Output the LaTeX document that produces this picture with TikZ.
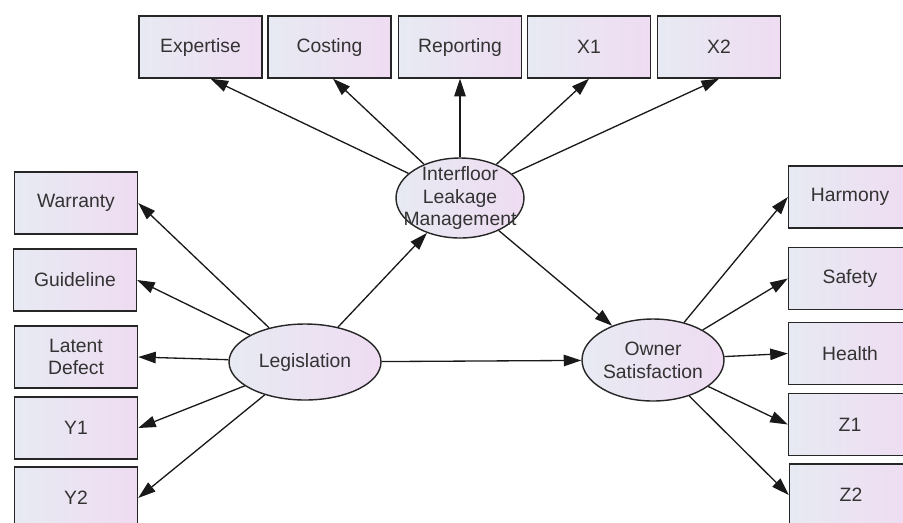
\documentclass[tikz,border=0pt]{standalone}
\usepackage{fontspec}
\setmainfont{Liberation Sans}
\usetikzlibrary{arrows.meta,shapes.geometric}

\definecolor{fillleft}{HTML}{E7EAF2}
\definecolor{fillright}{HTML}{EFDCF2}
\definecolor{inkgrey}{HTML}{333333}

\tikzset{
  indicator/.style={draw=black!85, line width=0.8pt, rectangle,
    minimum width=2.46cm, minimum height=1.24cm, inner sep=0pt,
    left color=fillleft, right color=fillright, text=inkgrey,
    align=center, font=\fontsize{11}{13}\selectfont},
  latent/.style={draw=black!85, line width=0.8pt, ellipse, inner sep=0pt,
    left color=fillleft, right color=fillright},
  latentlabel/.style={inner sep=0pt, text=inkgrey, align=center,
    font=\fontsize{11}{13}\selectfont},
  loading/.style={-{Triangle[length=10pt,width=6.5pt]}, line width=0.75pt, black!90}
}

\begin{document}
\begin{tikzpicture}[x=0.02cm, y=-0.02cm]
  \useasboundingbox (0,0) rectangle (903,522);

  % latent variables
  \node[latent, minimum width=2.56cm, minimum height=1.6cm] (interfloor) at (460,198) {};
  \node[latentlabel] (interfloortext) at (interfloor) {Interfloor\\Leakage\\Management};
  \node[latent, minimum width=3.04cm, minimum height=1.52cm] (legislation) at (305,362) {};
  \node[latentlabel] (legislationtext) at (legislation) {Legislation};
  \node[latent, minimum width=2.84cm, minimum height=1.64cm] (owner) at (653,360) {};
  \node[latentlabel] (ownertext) at (owner) {Owner\\Satisfaction};

  % indicators of interfloor leakage management
  \node[indicator] (expertise) at (200.5,47) {Expertise};
  \node[indicator] (costing) at (329.5,47) {Costing};
  \node[indicator] (reporting) at (460,47) {Reporting};
  \node[indicator] (xone) at (589,47) {X1};
  \node[indicator] (xtwo) at (719,47) {X2};

  % indicators of legislation
  \node[indicator] (warranty) at (76,203) {Warranty};
  \node[indicator] (guideline) at (75,280) {Guideline};
  \node[indicator] (latentdefect) at (76,357) {Latent\\Defect};
  \node[indicator] (yone) at (76,428) {Y1};
  \node[indicator] (ytwo) at (76,498) {Y2};

  % indicators of owner satisfaction
  \node[indicator] (harmony) at (850,197) {Harmony};
  \node[indicator] (safety) at (850,278.5) {Safety};
  \node[indicator] (health) at (850,353.5) {Health};
  \node[indicator] (zone) at (850,424.5) {Z1};
  \node[indicator] (ztwo) at (851,495) {Z2};

  % paths
  \draw[loading] (interfloor) -- ([xshift=0.2cm]expertise.south);
  \draw[loading] (interfloor) -- ([xshift=0.07cm]costing.south);
  \draw[loading] (interfloor) -- (reporting.south);
  \draw[loading] (interfloor) -- (xone.south);
  \draw[loading] (interfloor) -- (xtwo.south);

  \draw[loading] (legislation) -- (warranty.east);
  \draw[loading] (legislation) -- (guideline.east);
  \draw[loading] (legislation) -- (latentdefect.east);
  \draw[loading] (legislation) -- (yone.east);
  \draw[loading] (legislation) -- (ytwo.east);

  \draw[loading] (owner) -- (harmony.west);
  \draw[loading] (owner) -- (safety.west);
  \draw[loading] (owner) -- (health.west);
  \draw[loading] (owner) -- (zone.west);
  \draw[loading] (owner) -- (ztwo.west);

  \draw[loading] (legislation) -- (interfloor);
  \draw[loading] (legislation) -- (owner);
  \draw[loading] (interfloor) -- (owner);
\end{tikzpicture}
\end{document}
